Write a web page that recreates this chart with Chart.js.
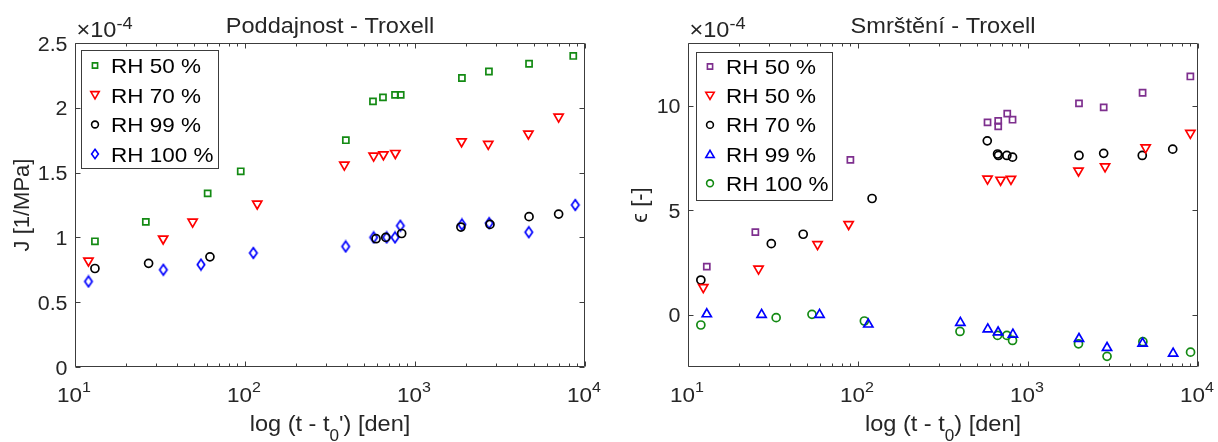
<!DOCTYPE html>
<html>
<head>
<meta charset="utf-8">
<script src="https://cdn.jsdelivr.net/npm/chart.js@4/dist/chart.umd.min.js"></script>
<style>
  html, body { margin: 0; padding: 0; background: #fff; }
  #wrap { position: relative; width: 1218px; height: 442px; }
  #wrap canvas { position: absolute; top: 0; }
</style>
</head>
<body>
<div id="wrap">
  <canvas id="poddajnost" width="609" height="442" style="left:0"></canvas>
  <canvas id="smrsteni" width="609" height="442" style="left:609px"></canvas>
</div>
<script>
// x axis: time since loading [days], log scale
const xTicks = [10, 100, 1000, 10000];
const xTickExp = ['1', '2', '3', '4'];

// --- compliance J [x1e-4 1/MPa] ---
const jTicks = [0, 0.5, 1, 1.5, 2, 2.5];
const jTickLabels = ['0', '0.5', '1', '1.5', '2', '2.5'];

const jDays50 = [13.1, 26.1, 60.3, 94.4, 392, 566, 648, 763, 824, 1888, 2722, 4687, 8530];
const j50 = [0.97, 1.12, 1.34, 1.51, 1.75, 2.05, 2.08, 2.10, 2.10, 2.23, 2.28, 2.34, 2.40];

const jDays70 = [12.0, 33.0, 49.2, 118, 384, 571, 652, 766, 1879, 2697, 4645, 6996];
const j70 = [0.82, 0.99, 1.12, 1.26, 1.56, 1.63, 1.64, 1.65, 1.74, 1.72, 1.80, 1.93];

const jDays99 = [13.1, 27.1, 62.2, 590, 673, 835, 1862, 2761, 4687, 6996];
const j99 = [0.76, 0.80, 0.85, 0.99, 1.00, 1.03, 1.08, 1.10, 1.16, 1.18];

const jDays100 = [12.0, 33.1, 55.1, 112, 391, 571, 681, 763, 820, 1888, 2730, 4670, 8770];
const j100 = [0.66, 0.75, 0.79, 0.88, 0.93, 1.00, 1.00, 1.00, 1.09, 1.10, 1.11, 1.04, 1.25];

// --- shrinkage eps [x1e-4] ---
const epsTicks = [0, 5, 10];
const epsTickLabels = ['0', '5', '10'];

const eDays50a = [12.9, 24.9, 90.2, 578, 668, 668, 755, 811, 1995, 2787, 4721, 9016];
const e50a = [2.30, 3.95, 7.41, 9.20, 9.27, 9.01, 9.62, 9.33, 10.11, 9.92, 10.62, 11.40];

const eDays50b = [12.3, 26.0, 57.8, 88.1, 578, 690, 794, 1982, 2840, 4921, 9016];
const e50b = [1.31, 2.20, 3.37, 4.33, 6.50, 6.45, 6.49, 6.89, 7.09, 8.00, 8.69];

const eDays70 = [11.9, 30.9, 47.6, 121, 576, 662, 670, 751, 811, 1995, 2787, 4700, 7100];
const e70 = [1.66, 3.40, 3.85, 5.56, 8.32, 7.69, 7.62, 7.62, 7.54, 7.62, 7.72, 7.62, 7.92];

const eDays99 = [12.9, 27.1, 59.4, 115, 400, 580, 667, 815, 1995, 2917, 4721, 7140];
const e99 = [0.03, 0.0, 0.0, -0.46, -0.38, -0.69, -0.84, -0.94, -1.15, -1.58, -1.37, -1.85];

const eDays100 = [11.9, 33.0, 53.6, 109, 398, 662, 751, 811, 1982, 2917, 4740, 9040];
const e100 = [-0.49, -0.14, 0.02, -0.30, -0.80, -0.99, -0.99, -1.23, -1.39, -1.99, -1.29, -1.79];

const GREEN = '#138a13', RED = '#ff0000', BLACK = '#000000', BLUE = '#0000ff', PURPLE = '#7e2f8e';
const INK = '#262626';
const FRAME = '#3c3c3c';
const FONT = '"Liberation Sans", Arial, Helvetica, sans-serif';
const SX = 1.07; // text is drawn slightly wide

const fnt = size => size + 'px ' + FONT;

// minor ticks 2..9 inside every decade
const xMinor = [];
xTicks.slice(0, -1).forEach(d => { for (let k = 2; k <= 9; k++) xMinor.push(d * k); });

// draws [text, size, dy] pieces one after another (super/subscripts)
function rich(ctx, parts, x, y, align) {
  let total = 0;
  parts.forEach(p => { ctx.font = fnt(p[1]); total += ctx.measureText(p[0]).width; });
  let x0 = x;
  if (align === 'center') x0 = x - total * SX / 2;
  if (align === 'right') x0 = x - total * SX;
  ctx.save();
  ctx.translate(x0, y);
  ctx.scale(SX, 1);
  ctx.textAlign = 'left';
  ctx.textBaseline = 'alphabetic';
  let off = 0;
  parts.forEach(p => {
    ctx.font = fnt(p[1]);
    ctx.fillText(p[0], off, p[2] || 0);
    off += ctx.measureText(p[0]).width;
  });
  ctx.restore();
}

function diamondMarker(color) {
  const c = document.createElement('canvas');
  c.width = 12; c.height = 14;
  const g = c.getContext('2d');
  g.strokeStyle = color;
  g.lineWidth = 1.7;
  g.beginPath();
  g.moveTo(6, 1.8); g.lineTo(9.7, 7); g.lineTo(6, 12.2); g.lineTo(2.3, 7);
  g.closePath();
  g.stroke();
  return c;
}

function legendMarker(ctx, kind, x, y, color) {
  ctx.save();
  ctx.strokeStyle = color;
  ctx.lineWidth = 1.6;
  ctx.beginPath();
  if (kind === 'square') ctx.rect(x - 2.6, y - 2.6, 5.2, 5.2);
  else if (kind === 'circle') ctx.arc(x, y, 3.4, 0, Math.PI * 2);
  else if (kind === 'down') { ctx.moveTo(x - 4.2, y - 3.4); ctx.lineTo(x + 4.2, y - 3.4); ctx.lineTo(x, y + 3.8); ctx.closePath(); }
  else if (kind === 'up') { ctx.moveTo(x - 4.2, y + 3.4); ctx.lineTo(x + 4.2, y + 3.4); ctx.lineTo(x, y - 3.8); ctx.closePath(); }
  else if (kind === 'diamond') { ctx.moveTo(x, y - 4.7); ctx.lineTo(x + 3.4, y); ctx.lineTo(x, y + 4.7); ctx.lineTo(x - 3.4, y); ctx.closePath(); }
  ctx.stroke();
  ctx.restore();
}

function series(label, days, vals, kind, color) {
  const styles = {
    square: { pointStyle: 'rect', pointRadius: 4.3 },
    circle: { pointStyle: 'circle', pointRadius: 4 },
    down: { pointStyle: 'triangle', pointRadius: 5.3, pointRotation: 180 },
    up: { pointStyle: 'triangle', pointRadius: 5.3 },
    diamond: { pointStyle: diamondMarker(color), pointRadius: 5 }
  };
  return Object.assign({
    label: label,
    marker: kind,
    data: days.map((d, i) => ({ x: d, y: vals[i] })),
    showLine: false,
    borderColor: color,
    backgroundColor: 'rgba(0,0,0,0)',
    pointBorderColor: color,
    pointBackgroundColor: 'rgba(0,0,0,0)',
    pointBorderWidth: 1.7
  }, styles[kind]);
}

// box, inward ticks, tick labels, titles and the legend
const matlabAxes = {
  id: 'matlabAxes',
  afterDraw(chart, args, o) {
    const { ctx, chartArea: a } = chart;
    const sx = chart.scales.x, sy = chart.scales.y;
    const L = Math.round(a.left) + 0.5, R = Math.round(a.right) - 0.5;
    const T = Math.round(a.top) + 0.5, B = Math.round(a.bottom) - 0.5;
    ctx.save();
    ctx.strokeStyle = FRAME;
    ctx.fillStyle = INK;
    ctx.lineWidth = 1;

    ctx.beginPath();
    ctx.rect(L, T, R - L, B - T);
    const xTick = (v, len) => {
      const px = Math.round(sx.getPixelForValue(v)) + 0.5;
      ctx.moveTo(px, B); ctx.lineTo(px, B - len);
      ctx.moveTo(px, T); ctx.lineTo(px, T + len);
    };
    xTicks.forEach(v => xTick(v, 5));
    xMinor.forEach(v => xTick(v, 3));
    o.yTicks.forEach(v => {
      const py = Math.round(sy.getPixelForValue(v)) + 0.5;
      ctx.moveTo(L, py); ctx.lineTo(L + 5, py);
      ctx.moveTo(R, py); ctx.lineTo(R - 5, py);
    });
    ctx.stroke();

    // tick labels
    o.yTicks.forEach((v, i) => {
      rich(ctx, [[o.yTickLabels[i], 20]], L - 8, sy.getPixelForValue(v) + 7.5, 'right');
    });
    xTicks.forEach((v, i) => {
      rich(ctx, [['10', 21], [xTickExp[i], 15, -10]], sx.getPixelForValue(v) - 1, 402, 'center');
    });

    // exponent, title, axis labels
    rich(ctx, [['\u00d710', 22], ['-4', 17, -8]], L + 1, 37, 'left');
    rich(ctx, [[o.title, 22]], (L + R) / 2, 33, 'center');
    rich(ctx, o.xLabel, (L + R) / 2, 431, 'center');

    ctx.save();
    ctx.translate(o.yLabelX, (T + B) / 2);
    ctx.rotate(-Math.PI / 2);
    ctx.font = fnt(22);
    ctx.textAlign = 'center';
    ctx.fillText(o.yLabel, 0, 0);
    ctx.restore();

    // legend
    const lg = o.legend;
    ctx.fillStyle = '#fff';
    ctx.fillRect(lg.x, lg.y, lg.w, lg.h);
    ctx.strokeStyle = FRAME;
    ctx.strokeRect(lg.x + 0.5, lg.y + 0.5, lg.w, lg.h);
    ctx.fillStyle = '#000';
    chart.data.datasets.forEach((ds, i) => {
      const y = lg.row0 + i * lg.dy;
      legendMarker(ctx, ds.marker, lg.x + 14, y, ds.pointBorderColor);
      rich(ctx, [[ds.label, 21]], lg.x + 30, y + 7.5, 'left');
    });
    ctx.restore();
  }
};

function makeChart(id, datasets, yMin, yMax, pad, axesOpts) {
  return new Chart(document.getElementById(id), {
    type: 'scatter',
    data: { datasets: datasets },
    options: {
      responsive: false,
      animation: false,
      devicePixelRatio: 1,
      events: [],
      layout: { padding: pad },
      scales: {
        x: { type: 'logarithmic', min: 10, max: 10000, display: false },
        y: { type: 'linear', min: yMin, max: yMax, display: false }
      },
      plugins: {
        legend: { display: false },
        tooltip: { enabled: false },
        matlabAxes: axesOpts
      }
    },
    plugins: [matlabAxes]
  });
}

makeChart('poddajnost', [
  series('RH 50 %', jDays50, j50, 'square', GREEN),
  series('RH 70 %', jDays70, j70, 'down', RED),
  series('RH 99 %', jDays99, j99, 'circle', BLACK),
  series('RH 100 %', jDays100, j100, 'diamond', BLUE)
], 0, 2.5, { left: 75, right: 24, top: 43, bottom: 75 }, {
  title: 'Poddajnost - Troxell',
  yTicks: jTicks,
  yTickLabels: jTickLabels,
  yLabel: 'J [1/MPa]',
  yLabelX: 29,
  xLabel: [['log (t - t', 22], ['0', 16, 10], ['\') [den]', 22]],
  legend: { x: 81, y: 50, w: 137, h: 118, row0: 65.5, dy: 29.5 }
});

makeChart('smrsteni', [
  series('RH 50 %', eDays50a, e50a, 'square', PURPLE),
  series('RH 50 %', eDays50b, e50b, 'down', RED),
  series('RH 70 %', eDays70, e70, 'circle', BLACK),
  series('RH 99 %', eDays99, e99, 'up', BLUE),
  series('RH 100 %', eDays100, e100, 'circle', GREEN)
], -2.5, 13, { left: 79, right: 20, top: 43, bottom: 75 }, {
  title: 'Smr\u0161t\u011bn\u00ed - Troxell',
  yTicks: epsTicks,
  yTickLabels: epsTickLabels,
  yLabel: '\u03f5 [-]',
  yLabelX: 38,
  xLabel: [['log (t - t', 22], ['0', 16, 10], [') [den]', 22]],
  legend: { x: 87, y: 52, w: 136, h: 148, row0: 66.5, dy: 29.2 }
});
</script>
</body>
</html>
